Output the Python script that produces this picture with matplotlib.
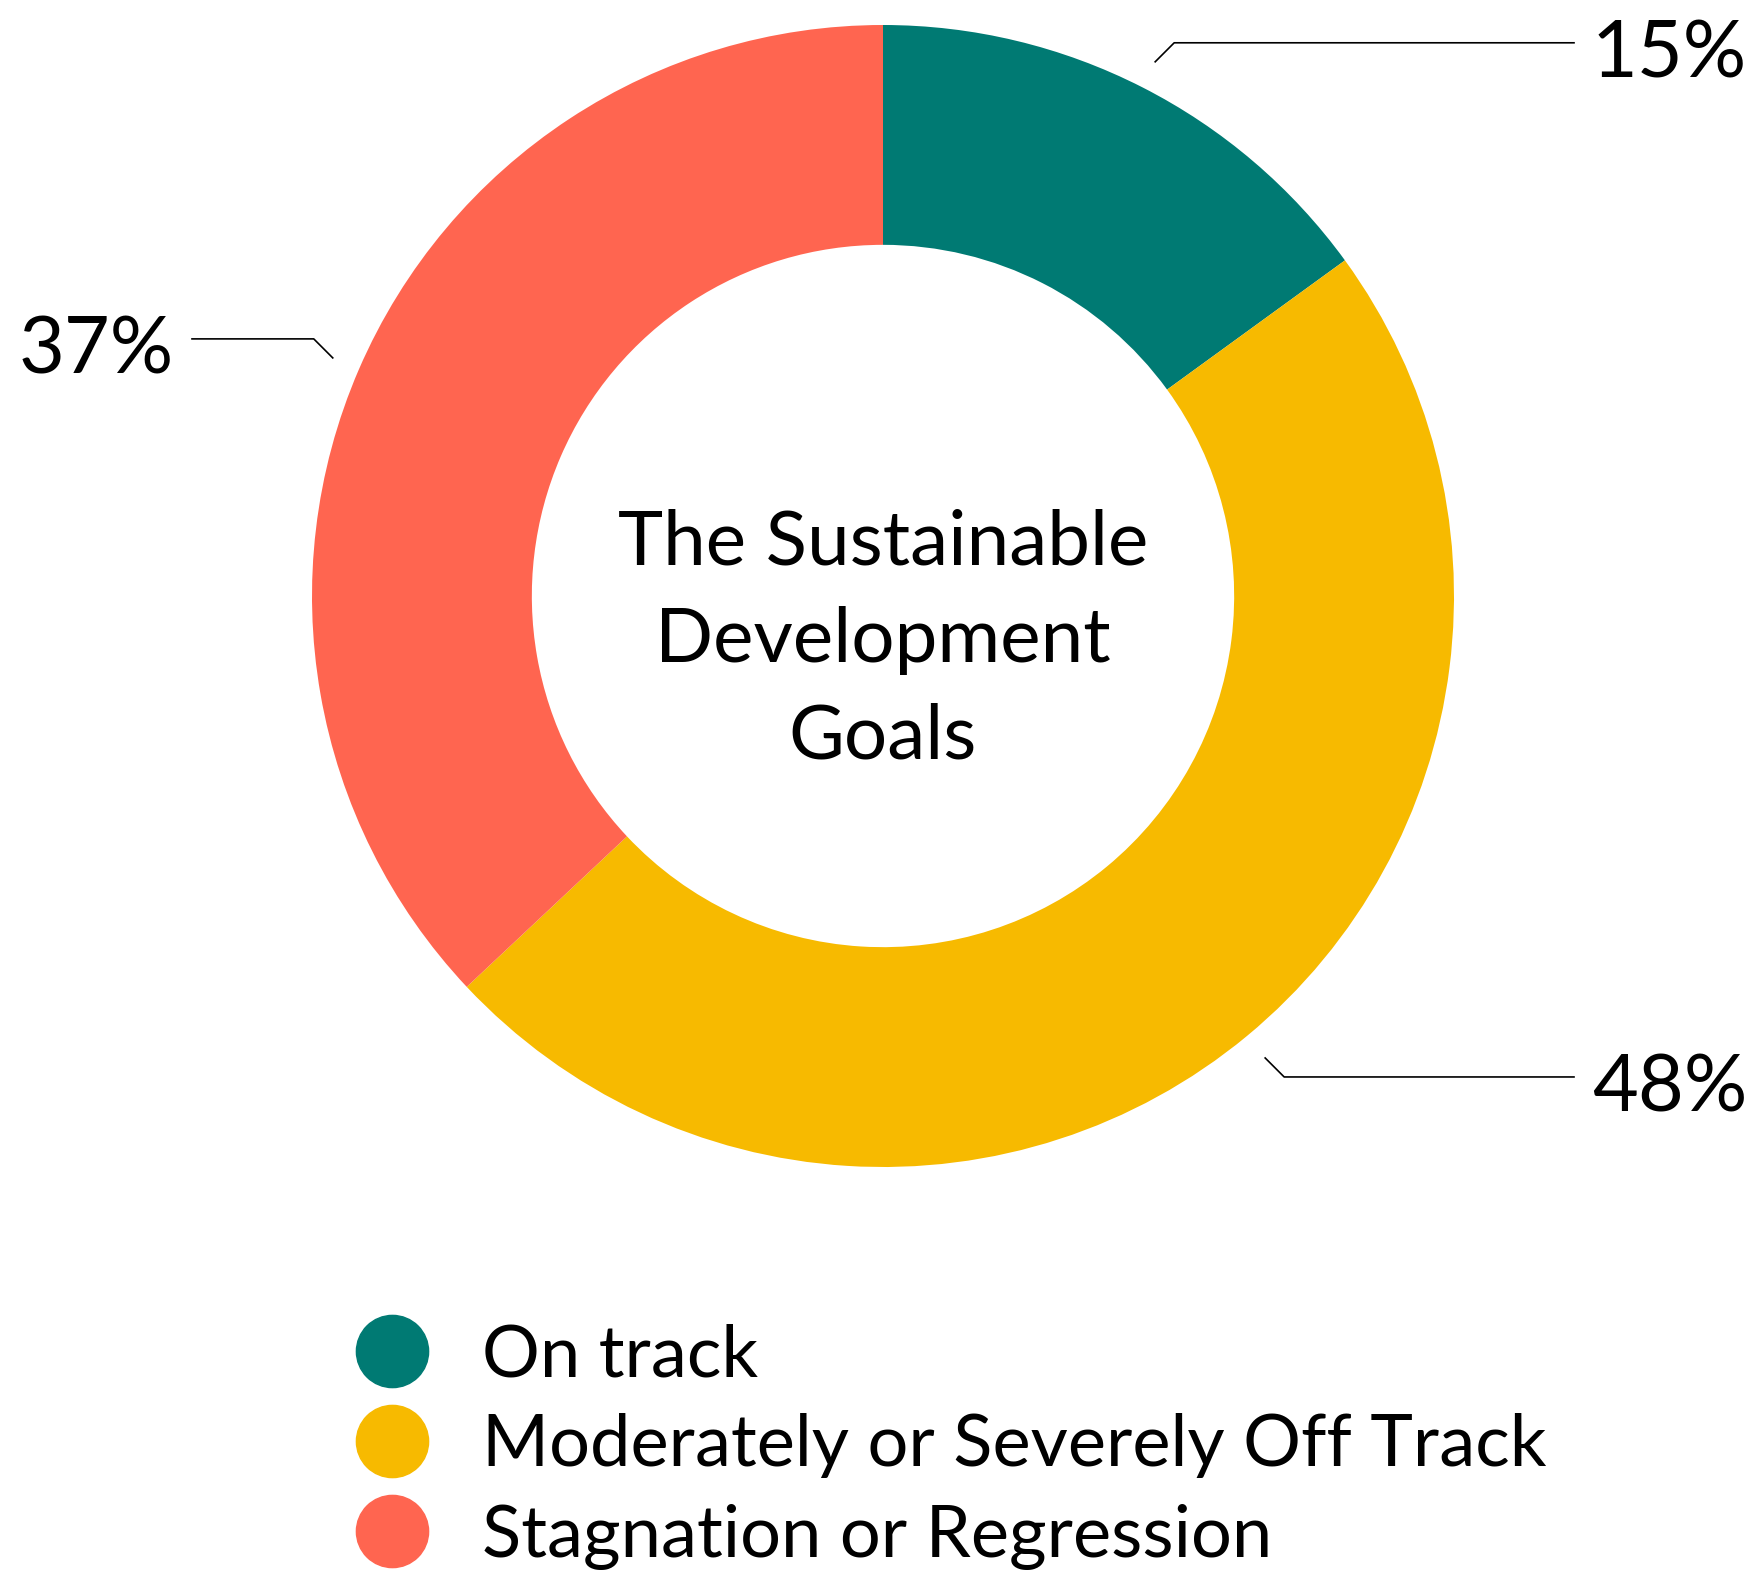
import matplotlib.pyplot as plt
from matplotlib.lines import Line2D
import numpy as np

# Daten
labels = ['On track', 'Moderately or Severely Off Track', 'Stagnation or Regression']
shares = [15, 48, 37]
pct_labels = ['15%', '48%', '37%']
colors = ['#007A73', '#F7BA00', '#FF6550']
center_title = 'The Sustainable\nDevelopment\nGoals'

plt.rcParams['font.family'] = ['Lato', 'DejaVu Sans']

W, H = 1748, 1576
fig = plt.figure(figsize=(W / 100, H / 100), dpi=100)
ax = fig.add_axes([0, 0, 1, 1])

cx, cy = 883, H - 596
R = 571

wedges, _ = ax.pie(shares, colors=colors, startangle=90, counterclock=False,
                   radius=R, center=(cx, cy), frame=True,
                   wedgeprops=dict(width=R * 0.385, edgecolor='none'))
ax.set_xlim(0, W)
ax.set_ylim(0, H)
ax.axis('off')

ax.text(cx, cy - 44, center_title, ha='center', va='center',
        fontsize=55, linespacing=1.5, color='black')

# Beschriftungen mit Führungslinien
for w, txt in zip(wedges, pct_labels):
    mid = np.deg2rad((w.theta1 + w.theta2) / 2)
    sx = cx + 1.05 * R * np.cos(mid)
    sy = cy + 1.05 * R * np.sin(mid)
    sgn_x = 1 if np.cos(mid) > 0 else -1
    sgn_y = 1 if np.sin(mid) > 0 else -1
    ex, ey = sx + sgn_x * 19, sy + sgn_y * 19
    end_x = 1574 if sgn_x > 0 else 192
    ax.plot([sx, ex, end_x], [sy, ey, ey], color='black', lw=1.2)
    if sgn_x > 0:
        ax.text(end_x + 18, ey - 13, txt, ha='left', va='center', fontsize=57)
    else:
        ax.text(end_x - 18, ey - 13, txt, ha='right', va='center', fontsize=57)

handles = [Line2D([], [], marker='o', ls='', markersize=52, color=c) for c in colors]
ax.legend(handles, labels, loc='upper left', bbox_to_anchor=(320 / W, 1 - 1287 / H),
          frameon=False, fontsize=52, labelspacing=0.35, handletextpad=0.75,
          handlelength=1.0, borderpad=0)

fig.savefig('out.png', dpi=100)
